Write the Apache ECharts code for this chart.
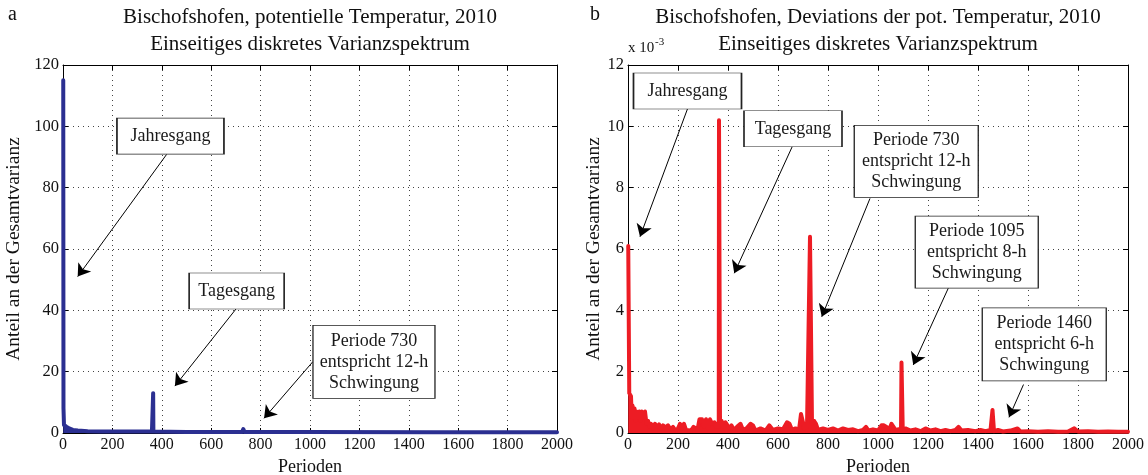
<!DOCTYPE html>
<html><head><meta charset="utf-8">
<script src="https://cdn.jsdelivr.net/npm/echarts@6/dist/echarts.min.js"></script>
<style>html,body{margin:0;padding:0;background:#fff}#c{width:1148px;height:475px}</style>
</head><body><div id="c"></div>
<script>
// ---------- data ----------
const xTickLabels = [0, 200, 400, 600, 800, 1000, 1200, 1400, 1600, 1800, 2000];
const leftYTickLabels = [0, 20, 40, 60, 80, 100, 120];
const rightYTickLabels = [0, 2, 4, 6, 8, 10, 12]; // x 10^-3

// Panel a: potential temperature spectrum (share of total variance)
const bluePeriods = [1, 2, 4, 8, 15, 25, 40, 60, 100, 150, 250, 360, 364, 365, 366, 370, 500, 725, 728, 730, 732, 735, 1000, 1500, 2000];
const blueValues  = [115, 8, 2.6, 2.3, 2.0, 1.5, 1.0, 0.8, 0.6, 0.5, 0.45, 0.45, 0.5, 13, 0.5, 0.4, 0.35, 0.35, 1.0, 1.3, 1.0, 0.35, 0.3, 0.25, 0.25];

// Panel b: deviations spectrum (values in units of 10^-3)
const redPeriods = [1, 3, 5, 8, 12, 15, 18, 22, 26, 30, 34, 40, 45, 50, 55, 62, 68, 74, 80, 86, 92, 100, 108, 116, 124, 132, 140, 150, 160, 170, 180, 190, 200, 208, 216, 224, 232, 240, 252, 262, 270, 278, 286, 296, 304, 312, 320, 328, 336, 346, 352, 358, 363, 364, 367, 368, 374, 382, 390, 398, 406, 414, 424, 436, 450, 460, 474, 490, 500, 510, 530, 550, 565, 580, 600, 620, 636, 646, 656, 670, 684, 692, 700, 706, 716, 728, 732, 736, 744, 752, 760, 780, 800, 820, 840, 860, 880, 900, 920, 940, 952, 962, 980, 1000, 1014, 1024, 1034, 1044, 1054, 1062, 1070, 1080, 1092, 1094, 1097, 1099, 1110, 1130, 1150, 1170, 1190, 1210, 1230, 1250, 1270, 1290, 1310, 1322, 1334, 1360, 1390, 1410, 1418, 1430, 1450, 1458, 1462, 1464, 1480, 1500, 1530, 1558, 1570, 1600, 1640, 1680, 1720, 1760, 1785, 1800, 1840, 1880, 1920, 1960, 2000];
const redValues  = [6.1, 6.1, 1.3, 1.3, 1.2, 0.5, 0.9, 0.6, 0.8, 0.4, 0.7, 0.5, 0.7, 0.4, 0.7, 0.5, 0.7, 0.3, 0.4, 0.2, 0.3, 0.15, 0.3, 0.2, 0.28, 0.15, 0.25, 0.18, 0.25, 0.12, 0.2, 0.08, 0.15, 0.3, 0.15, 0.3, 0.1, 0.15, 0.08, 0.2, 0.25, 0.1, 0.45, 0.45, 0.2, 0.45, 0.15, 0.45, 0.3, 0.35, 0.2, 0.3, 0.2, 10.2, 10.2, 0.3, 0.4, 0.2, 0.35, 0.3, 0.15, 0.25, 0.1, 0.2, 0.3, 0.1, 0.15, 0.3, 0.25, 0.08, 0.15, 0.08, 0.25, 0.1, 0.15, 0.12, 0.35, 0.3, 0.1, 0.15, 0.1, 0.62, 0.6, 0.15, 0.2, 6.4, 6.4, 0.3, 0.4, 0.3, 0.1, 0.15, 0.1, 0.15, 0.08, 0.15, 0.1, 0.12, 0.06, 0.1, 0.2, 0.08, 0.12, 0.08, 0.25, 0.25, 0.2, 0.1, 0.3, 0.35, 0.1, 0.12, 0.1, 2.3, 2.3, 0.1, 0.15, 0.08, 0.12, 0.06, 0.15, 0.08, 0.12, 0.06, 0.1, 0.06, 0.1, 0.2, 0.08, 0.1, 0.06, 0.1, 0.15, 0.06, 0.1, 0.75, 0.75, 0.06, 0.1, 0.05, 0.08, 0.15, 0.05, 0.06, 0.04, 0.06, 0.04, 0.05, 0.15, 0.05, 0.06, 0.04, 0.05, 0.04, 0.04];

// Annotations (data units of each panel)
const leftNotes = [
  {text: 'Jahresgang', at: [435, 96.8], size: [107, 36], from: [420, 90.9], to: [59.5, 51.0]},
  {text: 'Tagesgang', at: [703, 46.3], size: [95, 36], from: [700, 40.4], to: [453, 15.3]},
  {text: 'Periode 730\nentspricht 12-h\nSchwingung', at: [1259, 23.2], size: [122, 73], from: [1011, 23.2], to: [814, 4.8]}
];
const rightNotes = [
  {text: 'Jahresgang', at: [238, 11.15], size: [108, 36], from: [238, 10.57], to: [48, 6.40]},
  {text: 'Tagesgang', at: [660, 9.92], size: [98, 36], from: [657, 9.34], to: [425, 5.21]},
  {text: 'Periode 730\nentspricht 12-h\nSchwingung', at: [1153, 8.86], size: [124, 72], from: [968, 7.65], to: [775, 3.79]},
  {text: 'Periode 1095\nentspricht 8-h\nSchwingung', at: [1395, 5.90], size: [123, 72], from: [1281, 4.72], to: [1141, 2.22]},
  {text: 'Periode 1460\nentspricht 6-h\nSchwingung', at: [1665, 2.89], size: [124, 73], from: [1582, 1.58], to: [1524, 0.51]}
];

// ---------- chart ----------
const FONT = '"Liberation Serif", "Times New Roman", "DejaVu Serif", serif';
const chart = echarts.init(document.getElementById('c'), null, {renderer: 'canvas'});

function pairs(xs, ys) { return xs.map((x, i) => [x, ys[i]]); }

function xAxisDef(grid, top) {
  return {
    type: 'value', gridIndex: grid, position: top ? 'top' : 'bottom',
    min: xTickLabels[0], max: xTickLabels[xTickLabels.length - 1], interval: xTickLabels[1] - xTickLabels[0],
    name: top ? '' : 'Perioden', nameLocation: 'middle', nameGap: 23,
    nameTextStyle: {fontFamily: FONT, fontSize: 18, color: '#111'},
    axisLine: {show: true, onZero: false, lineStyle: {color: '#000', width: 1}},
    axisTick: {show: true, inside: true, length: 5, lineStyle: {color: '#000'}},
    axisLabel: {show: !top, margin: 4, fontFamily: FONT, fontSize: 16, color: '#111', formatter: v => String(v)},
    splitLine: {show: !top, lineStyle: {color: '#444', type: [1, 4], width: 1}}
  };
}
function yAxisDef(grid, right, ticks, gap) {
  return {
    type: 'value', gridIndex: grid, position: right ? 'right' : 'left',
    min: ticks[0], max: ticks[ticks.length - 1], interval: ticks[1] - ticks[0],
    name: right ? '' : 'Anteil an der Gesamtvarianz', nameLocation: 'middle', nameGap: gap,
    nameTextStyle: {fontFamily: FONT, fontSize: 19.5, color: '#111'},
    axisLine: {show: true, onZero: false, lineStyle: {color: '#000', width: 1}},
    axisTick: {show: true, inside: true, length: 5, lineStyle: {color: '#000'}},
    axisLabel: {show: !right, margin: 4, fontFamily: FONT, fontSize: 16.5, color: '#111', formatter: v => String(v)},
    splitLine: {show: !right, lineStyle: {color: '#444', type: [1, 4], width: 1}}
  };
}
function notes(list) {
  return {
    markPoint: {
      silent: true, animation: false,
      symbol: 'rect',
      itemStyle: {color: '#fff', borderColor: '#222', borderWidth: 1},
      label: {show: true, position: 'inside', color: '#1a1a1a', fontFamily: FONT, fontSize: 18, lineHeight: 21},
      data: list.map(n => ({coord: n.at, symbolSize: n.size, value: n.text, label: {formatter: n.text}}))
    },
    markLine: {
      silent: true, animation: false,
      symbol: ['none', 'arrow'], symbolSize: 12,
      label: {show: false},
      lineStyle: {color: '#000', width: 1, type: 'solid'},
      data: list.map(n => [{coord: n.from}, {coord: n.to}])
    }
  };
}

const option = {
  backgroundColor: '#fff',
  animation: false,
  textStyle: {fontFamily: FONT},
  grid: [
    {left: 63, top: 65, width: 494, height: 368, containLabel: false, outerBoundsMode: 'none'},
    {left: 628, top: 65, width: 500, height: 368, containLabel: false, outerBoundsMode: 'none'}
  ],
  xAxis: [xAxisDef(0, false), xAxisDef(0, true), xAxisDef(1, false), xAxisDef(1, true)],
  yAxis: [yAxisDef(0, false, leftYTickLabels, 39), yAxisDef(0, true, leftYTickLabels, 0),
          yAxisDef(1, false, rightYTickLabels, 21), yAxisDef(1, true, rightYTickLabels, 0)],
  series: [
    Object.assign({
      type: 'line', xAxisIndex: 0, yAxisIndex: 0, data: pairs(bluePeriods, blueValues),
      showSymbol: false, symbol: 'none', clip: false,
      lineStyle: {color: '#2b2f91', width: 4, cap: 'round', join: 'round'},
      areaStyle: {color: '#2b2f91', opacity: 1}, z: 3
    }, notes(leftNotes)),
    Object.assign({
      type: 'line', xAxisIndex: 2, yAxisIndex: 2, data: pairs(redPeriods, redValues),
      showSymbol: false, symbol: 'none', clip: false,
      lineStyle: {color: '#ed1c24', width: 4, cap: 'round', join: 'round'},
      areaStyle: {color: '#ed1c24', opacity: 1}, z: 3
    }, notes(rightNotes))
  ],
  graphic: [
    {type: 'text', x: 8, y: 15, style: {text: 'a', font: '20px ' + FONT, fill: '#111', align: 'left', verticalAlign: 'middle'}},
    {type: 'text', x: 590, y: 15, style: {text: 'b', font: '20px ' + FONT, fill: '#111', align: 'left', verticalAlign: 'middle'}},
    {type: 'text', x: 310, y: 17, style: {text: 'Bischofshofen, potentielle Temperatur, 2010', font: '21px ' + FONT, fill: '#111', align: 'center', verticalAlign: 'middle'}},
    {type: 'text', x: 310, y: 44, style: {text: 'Einseitiges diskretes Varianzspektrum', font: '21px ' + FONT, fill: '#111', align: 'center', verticalAlign: 'middle'}},
    {type: 'text', x: 878, y: 17, style: {text: 'Bischofshofen, Deviations der pot. Temperatur, 2010', font: '21px ' + FONT, fill: '#111', align: 'center', verticalAlign: 'middle'}},
    {type: 'text', x: 878, y: 44, style: {text: 'Einseitiges diskretes Varianzspektrum', font: '21px ' + FONT, fill: '#111', align: 'center', verticalAlign: 'middle'}},
    {type: 'text', x: 628, y: 48, style: {text: 'x 10', font: '15px ' + FONT, fill: '#111', align: 'left', verticalAlign: 'middle'}},
    {type: 'text', x: 655, y: 42, style: {text: '-3', font: '11px ' + FONT, fill: '#111', align: 'left', verticalAlign: 'middle'}}
  ]
};
chart.setOption(option);
</script>
</body></html>
